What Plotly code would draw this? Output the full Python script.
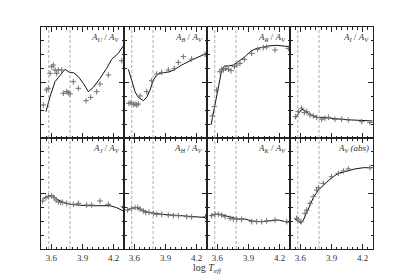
import plotly.graph_objects as go

# ---- data (log Teff vs. extinction ratio, arbitrary panel units 0..8) ----
labels = ["<i>A<sub>U</sub></i> / <i>A<sub>V</sub></i>",
          "<i>A<sub>B</sub></i> / <i>A<sub>V</sub></i>",
          "<i>A<sub>R</sub></i> / <i>A<sub>V</sub></i>",
          "<i>A<sub>I</sub></i> / <i>A<sub>V</sub></i>",
          "<i>A<sub>J</sub></i> / <i>A<sub>V</sub></i>",
          "<i>A<sub>H</sub></i> / <i>A<sub>V</sub></i>",
          "<i>A<sub>K</sub></i> / <i>A<sub>V</sub></i>",
          "<i>A<sub>V</sub></i> <i>(abs)</i>"]

u_line_x = [3.548, 3.587, 3.635, 3.683, 3.731, 3.779, 3.812, 3.860, 3.908, 3.956, 4.004, 4.069, 4.133, 4.181, 4.245, 4.293]
u_line_y = [1.90, 2.98, 4.06, 4.54, 4.95, 4.71, 4.71, 4.42, 3.94, 3.34, 3.65, 4.30, 5.02, 5.67, 6.10, 6.63]
u_pts_x = [3.522, 3.554, 3.571, 3.587, 3.603, 3.619, 3.635, 3.651, 3.667, 3.699, 3.715, 3.748, 3.764, 3.780, 3.812, 3.860, 3.934, 3.979, 4.037, 4.069, 4.149, 4.278]
u_pts_y = [2.38, 3.46, 3.58, 4.66, 5.14, 5.26, 4.90, 4.66, 4.90, 4.90, 3.22, 3.34, 3.27, 3.17, 4.06, 3.58, 2.69, 2.93, 3.34, 3.89, 4.54, 5.57]

b_line_x = [3.542, 3.574, 3.606, 3.638, 3.686, 3.719, 3.751, 3.783, 3.815, 3.847, 3.895, 3.943, 3.992, 4.056, 4.152, 4.232, 4.297]
b_line_y = [4.95, 4.06, 3.34, 2.93, 2.69, 2.93, 3.46, 4.18, 4.54, 4.66, 4.71, 4.78, 4.95, 5.26, 5.62, 5.86, 6.10]
b_pts_x = [3.548, 3.567, 3.590, 3.606, 3.622, 3.638, 3.654, 3.719, 3.767, 3.815, 3.863, 3.927, 3.985, 4.024, 4.072, 4.152, 4.281]
b_pts_y = [2.50, 2.55, 2.43, 2.45, 2.38, 2.45, 3.03, 3.34, 4.13, 4.61, 4.73, 4.90, 5.02, 5.45, 5.86, 5.69, 6.03]

r_line_x = [3.539, 3.561, 3.593, 3.616, 3.642, 3.667, 3.706, 3.754, 3.802, 3.867, 3.915, 3.963, 4.027, 4.091, 4.172, 4.252, 4.295]
r_line_y = [0.94, 1.78, 2.98, 4.06, 4.90, 5.19, 5.19, 5.26, 5.50, 5.86, 6.22, 6.41, 6.53, 6.63, 6.68, 6.63, 6.58]
r_pts_x = [3.551, 3.571, 3.593, 3.625, 3.642, 3.658, 3.680, 3.706, 3.731, 3.764, 3.786, 3.818, 3.860, 3.931, 3.988, 4.043, 4.075, 4.156, 4.284]
r_pts_y = [1.59, 2.26, 3.46, 4.78, 4.95, 4.90, 5.02, 4.95, 4.85, 5.14, 5.26, 5.38, 5.67, 6.10, 6.39, 6.51, 6.56, 6.34, 6.46]

i_line_x = [3.548, 3.580, 3.612, 3.645, 3.677, 3.725, 3.773, 3.837, 3.933, 4.094, 4.295]
i_line_y = [1.42, 1.78, 2.07, 1.97, 1.78, 1.59, 1.47, 1.49, 1.39, 1.30, 1.23]
i_pts_x = [3.555, 3.580, 3.612, 3.638, 3.661, 3.693, 3.725, 3.757, 3.805, 3.837, 3.870, 3.933, 3.998, 4.062, 4.191, 4.271]
i_pts_y = [1.54, 1.90, 2.14, 1.83, 1.90, 1.66, 1.59, 1.49, 1.35, 1.42, 1.49, 1.35, 1.35, 1.30, 1.18, 1.11]

j_line_x = [3.522, 3.554, 3.587, 3.619, 3.651, 3.715, 3.780, 3.844, 3.940, 4.037, 4.165, 4.229, 4.293]
j_line_y = [3.60, 3.77, 3.84, 3.84, 3.60, 3.36, 3.22, 3.17, 3.12, 3.12, 3.12, 2.98, 2.74]
j_pts_x = [3.516, 3.548, 3.571, 3.603, 3.625, 3.645, 3.667, 3.690, 3.709, 3.748, 3.812, 3.860, 3.940, 3.988, 4.069, 4.149, 4.293]
j_pts_y = [3.46, 3.70, 3.77, 3.84, 3.70, 3.53, 3.41, 3.36, 3.36, 3.29, 3.22, 3.29, 3.17, 3.17, 3.46, 3.22, 3.05]

h_line_x = [3.526, 3.574, 3.622, 3.670, 3.735, 3.799, 3.863, 3.960, 4.056, 4.152, 4.297]
h_line_y = [2.81, 2.93, 2.98, 2.81, 2.64, 2.57, 2.50, 2.45, 2.40, 2.35, 2.26]
h_pts_x = [3.535, 3.574, 3.606, 3.632, 3.654, 3.686, 3.709, 3.741, 3.783, 3.815, 3.863, 3.927, 3.976, 4.024, 4.104, 4.152, 4.285]
h_pts_y = [2.81, 2.93, 2.98, 2.98, 2.88, 2.74, 2.64, 2.64, 2.57, 2.50, 2.50, 2.45, 2.40, 2.40, 2.33, 2.31, 2.33]

k_line_x = [3.529, 3.577, 3.625, 3.674, 3.738, 3.802, 3.867, 3.931, 4.027, 4.123, 4.187, 4.284]
k_line_y = [2.40, 2.50, 2.50, 2.40, 2.26, 2.16, 2.16, 2.02, 1.97, 2.02, 2.09, 1.92]
k_pts_x = [3.545, 3.577, 3.609, 3.641, 3.674, 3.722, 3.754, 3.786, 3.834, 3.931, 3.979, 4.027, 4.075, 4.156, 4.268]
k_pts_y = [2.40, 2.50, 2.50, 2.45, 2.33, 2.21, 2.16, 2.16, 2.14, 1.97, 1.97, 1.97, 2.02, 2.09, 1.97]

v_line_x = [3.548, 3.580, 3.606, 3.629, 3.661, 3.693, 3.725, 3.773, 3.837, 3.901, 3.966, 4.046, 4.126, 4.207, 4.295]
v_line_y = [2.16, 1.97, 1.85, 2.09, 2.64, 3.22, 3.70, 4.25, 4.73, 5.14, 5.45, 5.62, 5.77, 5.86, 5.86]
v_pts_x = [3.564, 3.580, 3.606, 3.645, 3.661, 3.693, 3.725, 3.757, 3.773, 3.821, 3.901, 3.966, 4.014, 4.062, 4.271]
v_pts_y = [2.21, 2.09, 1.97, 2.57, 2.81, 3.29, 3.77, 4.25, 4.42, 4.73, 5.21, 5.45, 5.62, 5.77, 5.86]

lines_x = [u_line_x, b_line_x, r_line_x, i_line_x, j_line_x, h_line_x, k_line_x, v_line_x]
lines_y = [u_line_y, b_line_y, r_line_y, i_line_y, j_line_y, h_line_y, k_line_y, v_line_y]
pts_x = [u_pts_x, b_pts_x, r_pts_x, i_pts_x, j_pts_x, h_pts_x, k_pts_x, v_pts_x]
pts_y = [u_pts_y, b_pts_y, r_pts_y, i_pts_y, j_pts_y, h_pts_y, k_pts_y, v_pts_y]

dash_x = [3.575, 3.78]
x_ticks = [3.6, 3.9, 4.2]
x_range = [3.5, 4.3]
y_range = [0, 8]

FONT = "Liberation Serif"
fig = go.Figure()
layout = {}
for n in range(8):
    row, col = n // 4, n % 4
    idx = n + 1
    xa = "x" if idx == 1 else f"x{idx}"
    ya = "y" if idx == 1 else f"y{idx}"
    fig.add_trace(go.Scatter(x=lines_x[n], y=lines_y[n], mode="lines",
                             line=dict(color="#111111", width=1),
                             xaxis=xa, yaxis=ya, showlegend=False))
    fig.add_trace(go.Scatter(x=pts_x[n], y=pts_y[n], mode="markers",
                             marker=dict(symbol="cross-thin", size=4,
                                         line=dict(color="#707070", width=1)),
                             xaxis=xa, yaxis=ya, showlegend=False))
    xd = [col / 4, (col + 1) / 4]
    yd = [0.5, 1.0] if row == 0 else [0.0, 0.5]
    layout["xaxis" if idx == 1 else f"xaxis{idx}"] = dict(
        domain=xd, range=x_range, anchor=ya, showgrid=False, zeroline=False,
        showline=True, linecolor="#222222", linewidth=1, mirror="allticks",
        ticks="inside", tickvals=x_ticks, ticklen=5, tickcolor="#222222",
        ticktext=[str(v) for v in x_ticks],
        showticklabels=(row == 1),
        tickfont=dict(family=FONT, size=9, color="#333333"),
        minor=dict(ticks="inside", dtick=0.05, tick0=3.5, ticklen=2.5,
                   tickcolor="#222222", showgrid=False),
    )
    layout["yaxis" if idx == 1 else f"yaxis{idx}"] = dict(
        domain=yd, range=y_range, anchor=xa, showgrid=False, zeroline=False,
        showline=True, linecolor="#222222", linewidth=1, mirror="allticks",
        ticks="inside", dtick=4, tick0=0, ticklen=5, tickcolor="#222222",
        showticklabels=False,
        minor=dict(ticks="inside", dtick=1, tick0=0, ticklen=2.5,
                   tickcolor="#222222", showgrid=False),
    )
    for dx in dash_x:
        fig.add_shape(type="line", x0=dx, x1=dx, y0=0, y1=1,
                      xref=xa, yref=f"{ya} domain",
                      line=dict(color="#8a8a8a", width=0.7, dash="3px,2px"))
    fig.add_annotation(text=labels[n], x=0.97, y=0.97, xref=f"{xa} domain",
                       yref=f"{ya} domain", xanchor="right", yanchor="top",
                       showarrow=False,
                       font=dict(family=FONT, size=9, color="#333333"))

fig.add_annotation(text="log <i>T<sub>eff</sub></i>", x=0.5, y=-0.05,
                   xref="paper", yref="paper", xanchor="center", yanchor="top",
                   showarrow=False, font=dict(family=FONT, size=10, color="#333333"))

fig.update_layout(**layout)
fig.update_layout(width=407, height=269, margin=dict(l=33, r=42, t=19, b=28),
                  paper_bgcolor="white", plot_bgcolor="white",
                  font=dict(family=FONT))
fig.write_html("out.html")
